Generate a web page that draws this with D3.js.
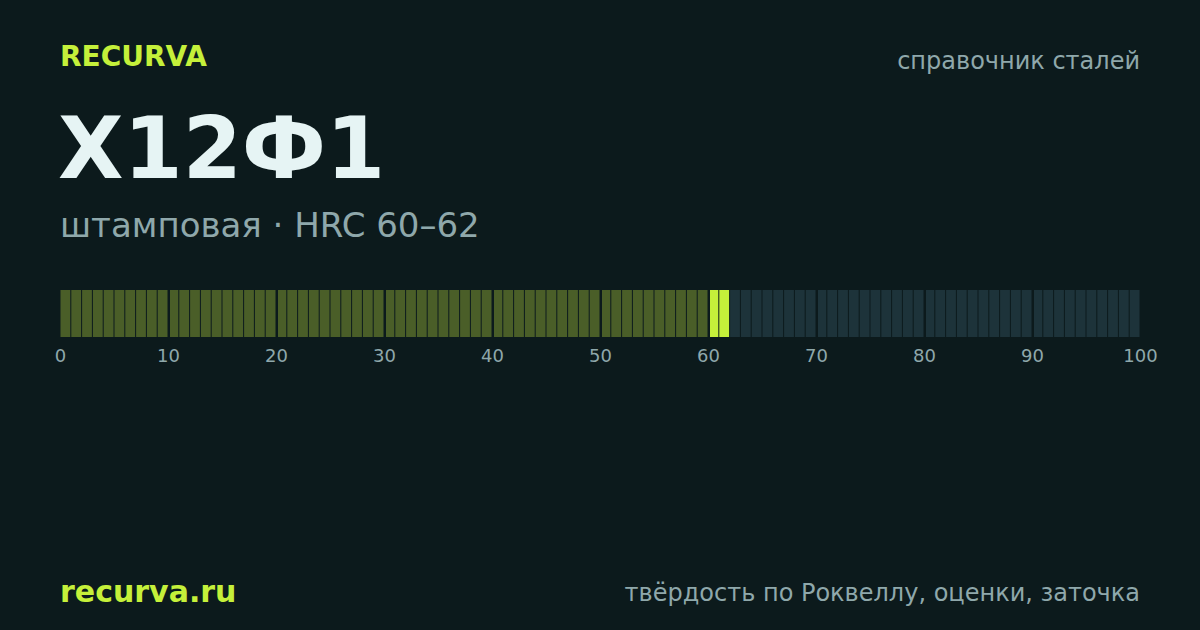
<!DOCTYPE html><html><head><meta charset="utf-8"><script src="https://cdn.jsdelivr.net/npm/d3@7"></script>
<style>body{margin:0;background:#0c1a1c}</style></head><body><svg id="c" width="1200" height="630"></svg>
<script>
const hrcRange=[60,62];
const scaleMax=100;
const tickValues=[0,10,20,30,40,50,60,70,80,90,100];
const cells=d3.range(scaleMax);
const svg=d3.select("#c");
svg.append("rect").attr("width",1200).attr("height",630).attr("fill","#0c1a1c");
const F="DejaVu Sans";
const t=(x,y,s,txt,fill,w,anchor)=>svg.append("text").attr("x",x).attr("y",y).attr("font-family",F).attr("font-size",s).attr("font-weight",w||"normal").attr("fill",fill).attr("text-anchor",anchor||"start").text(txt);
t(60,66,28,"RECURVA","#c5f03a","bold");
t(1140,69,24,"справочник сталей","#8fa8ab","normal","end");
t(58,178,85,"Х12Ф1","#e6f4f4","bold");
t(60,237,34,"штамповая · HRC 60–62","#8fa8ab");
t(60,602,30,"recurva.ru","#c5f03a","bold");
t(1140,601,24,"твёрдость по Роквеллу, оценки, заточка","#8fa8ab","normal","end");
const x=d3.scaleLinear().domain([0,scaleMax]).range([60,1140]);
svg.selectAll("rect.cell").data(cells).join("rect").attr("class","cell")
 .attr("x",i=>x(i)+(i%10===0&&i>0?1.5:0)+0.5)
 .attr("width",i=>x(i+1)-x(i)-(i%10===0&&i>0?1.5:0)-1)
 .attr("y",290).attr("height",47)
 .attr("fill",i=>i>=hrcRange[0]&&i<hrcRange[1]?"#c5f03a":(i<hrcRange[0]?"#4a5e28":"#1d333a"));
const ax=svg.append("g").attr("transform","translate(0,337)").call(d3.axisBottom(x).tickValues(tickValues).tickSize(0).tickPadding(12));
ax.select(".domain").remove();
ax.selectAll("text").attr("font-family",F).attr("font-size",18).attr("fill","#8fa8ab");
</script></body></html>
